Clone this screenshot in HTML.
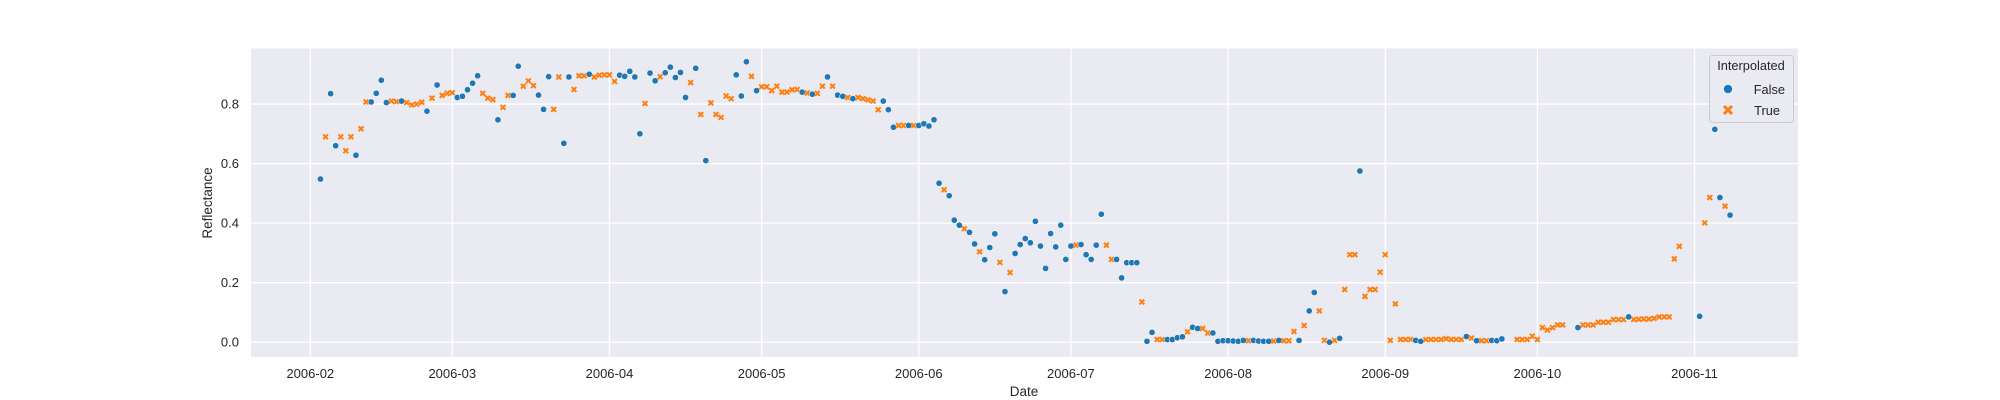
<!DOCTYPE html>
<html><head><meta charset="utf-8">
<style>
html,body{margin:0;padding:0;background:#fff;}
svg{display:block;font-family:"Liberation Sans",Arial,sans-serif;}
</style></head>
<body>
<svg id="chart" width="2000" height="400" viewBox="0 0 2000 400">
  <rect x="251" y="48.5" width="1547" height="308.5" fill="#eaeaf2"/>
  <g id="grid"></g>
  <g id="xticks"></g>
  <g id="yticks"></g>
  <g id="points"></g>
  <text x="1024" y="396" font-size="13.5" fill="#262626" text-anchor="middle">Date</text>
  <text transform="translate(212,203) rotate(-90)" font-size="13.5" fill="#262626" text-anchor="middle">Reflectance</text>
  <g>
    <rect x="1709.5" y="55.5" width="84" height="67" rx="3" fill="#eaeaf2" fill-opacity="0.8" stroke="#cccccc" stroke-width="1"/>
    <text x="1751" y="70" font-size="12.8" fill="#262626" text-anchor="middle">Interpolated</text>
    <circle cx="1728" cy="89" r="4.6" fill="#1f77b4" stroke="#fff" stroke-width="0.6"/>
    <text x="1785" y="94" font-size="12.8" fill="#262626" text-anchor="end">False</text>
    <path d="M1724,106 l4,4 l4,-4 M1724,114 l4,-4 l4,4" stroke="#ff7f0e" stroke-width="3" fill="none"/>
    <text x="1780" y="115" font-size="12.8" fill="#262626" text-anchor="end">True</text>
  </g>
</svg>
<script>
// day offsets from 2006-02-01
const dayOffsets = [2,3,4,5,6,7,8,9,10,11,12,13,14,15,16,17,18,19,20,21,22,23,24,25,26,27,28,29,30,31,32,33,34,35,36,37,38,39,40,41,42,43,44,45,46,47,48,49,50,51,52,53,54,55,56,57,58,59,60,61,62,63,64,65,66,67,68,69,70,71,72,73,74,75,76,77,78,79,80,81,82,83,84,85,86,87,88,89,90,91,92,93,94,95,96,97,98,99,100,101,102,103,104,105,106,107,108,109,110,111,112,113,114,115,116,117,118,119,120,121,122,123,124,125,126,127,128,129,130,131,132,133,134,135,136,137,138,139,140,141,142,143,144,145,146,147,148,149,150,151,152,153,154,155,156,157,158,159,160,161,162,163,164,165,166,167,168,169,170,171,172,173,174,175,176,177,178,179,180,181,182,183,184,185,186,187,188,189,190,191,192,193,194,195,196,197,198,199,200,201,202,203,204,205,206,207,208,209,210,211,212,213,214,215,216,217,218,219,220,221,222,223,224,225,226,227,228,229,230,231,232,233,234,235,238,239,240,241,242,243,244,245,246,247,250,251,252,253,254,255,256,257,258,259,260,261,262,263,264,265,266,267,268,269,270,274,275,276,277,278,279,280];
const reflectance = [.548,.69,.835,.66,.69,.643,.69,.628,.717,.807,.807,.836,.88,.805,.81,.808,.81,.805,.797,.80,.806,.776,.82,.864,.829,.836,.838,.822,.826,.848,.87,.895,.836,.82,.815,.747,.789,.829,.829,.927,.86,.878,.862,.83,.782,.892,.782,.891,.668,.891,.849,.895,.895,.90,.891,.897,.898,.898,.876,.897,.893,.91,.891,.70,.802,.904,.878,.892,.905,.924,.889,.906,.822,.872,.92,.765,.61,.804,.765,.755,.827,.818,.898,.827,.942,.893,.845,.858,.858,.845,.86,.84,.84,.848,.849,.84,.837,.833,.836,.86,.891,.86,.83,.826,.822,.818,.822,.818,.814,.81,.781,.81,.781,.722,.728,.728,.728,.728,.728,.734,.726,.747,.534,.512,.492,.41,.393,.381,.369,.33,.304,.277,.318,.364,.268,.17,.234,.298,.328,.348,.334,.406,.323,.248,.365,.32,.393,.278,.323,.326,.328,.294,.278,.326,.43,.326,.278,.278,.216,.267,.267,.267,.135,.003,.033,.009,.009,.009,.009,.015,.018,.035,.05,.046,.046,.031,.031,.003,.005,.005,.004,.003,.006,.005,.006,.004,.003,.003,.004,.006,.005,.005,.036,.006,.056,.105,.167,.105,.006,.0,.006,.013,.177,.294,.294,.575,.154,.177,.177,.235,.294,.006,.129,.009,.009,.009,.006,.003,.009,.009,.009,.009,.012,.009,.009,.009,.019,.014,.005,.005,.005,.006,.005,.011,.009,.009,.009,.02,.009,.049,.041,.049,.058,.058,.049,.058,.058,.058,.067,.067,.067,.076,.076,.076,.085,.076,.077,.078,.078,.08,.085,.085,.085,.28,.322,.087,.401,.486,.715,.486,.457,.427];
const interpolated = [
0,1,0,0,1,1,1,0,1,1,
0,0,0,0,1,1,0,1,1,1,
1,0,1,0,1,1,1,0,0,0,
0,0,1,1,1,0,1,1,0,0,
1,1,1,0,0,0,1,1,0,0,
1,1,1,0,1,1,1,1,1,0,
0,0,0,0,1,0,0,1,0,0,
0,0,0,1,0,1,0,1,1,1,
1,1,0,0,0,1,0,1,1,1,
1,1,1,1,1,0,1,0,1,1,
0,1,0,0,1,0,1,1,1,1,
1,0,0,0,1,1,0,1,0,0,
0,0,0,1,0,0,0,1,0,0,
1,0,0,0,1,0,1,0,0,0,
0,0,0,0,0,0,0,0,0,1,
0,0,0,0,0,1,1,0,0,0,
0,0,1,0,0,1,1,0,0,0,
0,1,0,0,1,1,0,0,0,0,
0,0,0,1,0,0,0,0,1,0,
1,1,1,0,1,0,0,1,1,0,
1,0,1,1,1,0,1,1,1,1,
1,1,1,1,1,1,0,0,1,1,
1,1,1,1,1,1,0,1,0,1,
1,0,0,0,1,1,1,1,1,1,
1,1,1,1,0,1,1,1,1,1,
1,1,1,1,0,1,1,1,1,1,
1,1,1,1,1,0,1,1,0,0,
1,0];
const xTickDays = [0,28,59,89,120,150,181,212,242,273];
const xTickLabels = ["2006-02","2006-03","2006-04","2006-05","2006-06","2006-07","2006-08","2006-09","2006-10","2006-11"];
const yTickValues = [0,0.2,0.4,0.6,0.8];
const yTickLabels = ["0.0","0.2","0.4","0.6","0.8"];

const NS = "http://www.w3.org/2000/svg";
const X0 = 251, X1 = 1798, Y0 = 48.5, Y1 = 357;
const dMin = -11.7, dMax = 293.4, vMin = -0.0497, vMax = 0.9866;
function xScale(d){ return X0 + (d - dMin) / (dMax - dMin) * (X1 - X0); }
function yScale(v){ return Y1 - (v - vMin) / (vMax - vMin) * (Y1 - Y0); }
function mk(tag, attrs, parent){ const e = document.createElementNS(NS, tag); for (const k in attrs) e.setAttribute(k, attrs[k]); parent.appendChild(e); return e; }

const grid = document.getElementById('grid');
const xt = document.getElementById('xticks');
const yt = document.getElementById('yticks');
const pts = document.getElementById('points');

xTickDays.forEach((d, i) => {
  const x = xScale(d);
  const gl = mk('line', {x1:x, x2:x, y1:Y0, y2:Y1, stroke:'#fff', 'stroke-width':1.3}, grid);
  
  
  const t = mk('text', {x:x, y:378, 'font-size':13, fill:'#262626', 'text-anchor':'middle'}, xt);
  t.textContent = xTickLabels[i];
  
  
});
yTickValues.forEach((v, i) => {
  const y = yScale(v);
  const gl = mk('line', {x1:X0, x2:X1, y1:y, y2:y, stroke:'#fff', 'stroke-width':1.3}, grid);
  
  
  const t = mk('text', {x:239, y:y + 4.5, 'font-size':13, fill:'#262626', 'text-anchor':'end'}, yt);
  t.textContent = yTickLabels[i];
  
  
});
dayOffsets.forEach((d, i) => {
  const x = xScale(d), y = yScale(reflectance[i]);
  let el;
  if (interpolated[i]) {
    const s = 2.4;
    el = mk('path', {d:`M${x-s},${y-s}L${x+s},${y+s}M${x-s},${y+s}L${x+s},${y-s}`, stroke:'#ff7f0e', 'stroke-width':2.0, fill:'none'}, pts);
    
  } else {
    el = mk('circle', {cx:x, cy:y, r:3.1, fill:'#1f77b4', stroke:'#fff', 'stroke-width':0.5}, pts);
    
  }
  
});
</script>
</body></html>
